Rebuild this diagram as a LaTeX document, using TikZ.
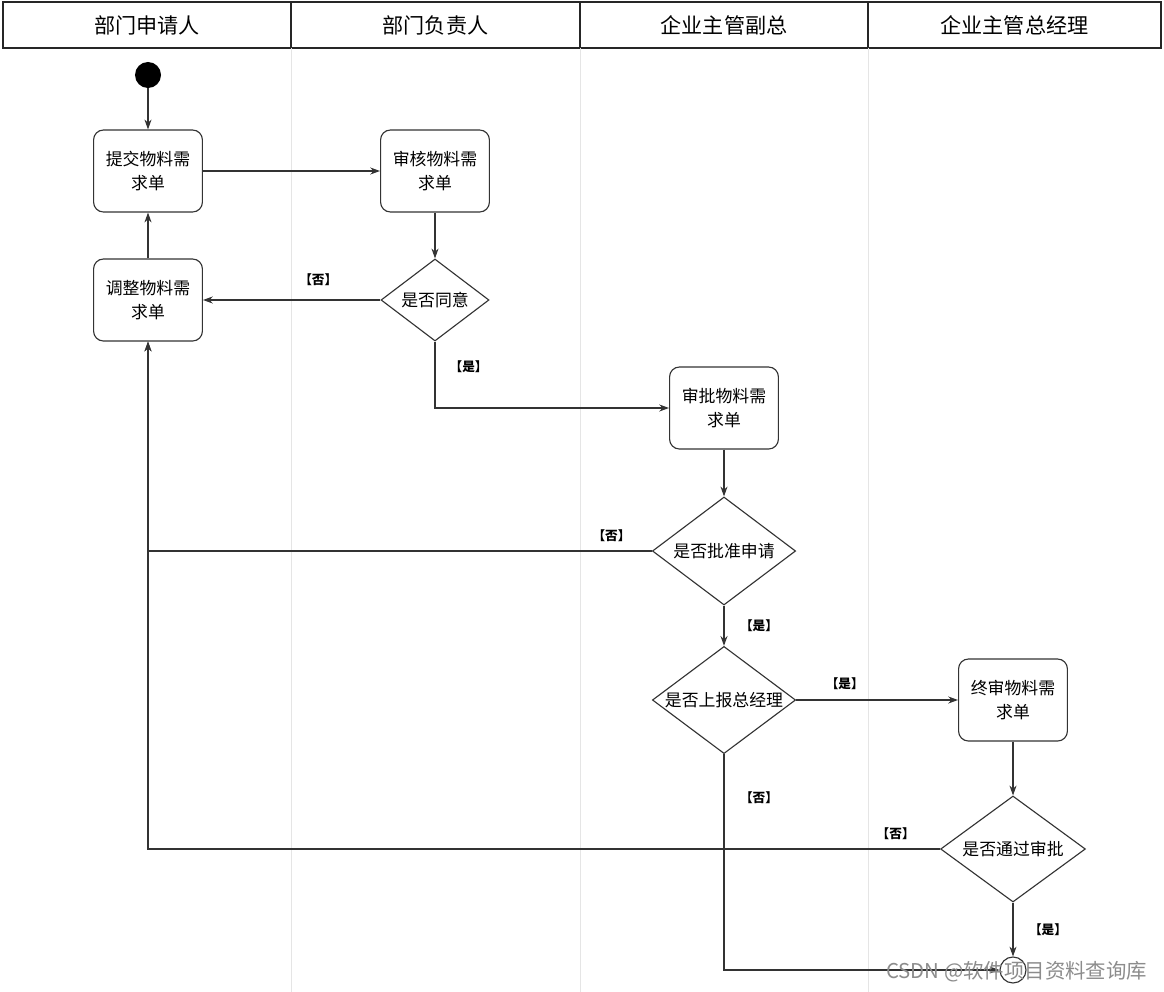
\documentclass[tikz,border=0pt]{standalone}
\usepackage{fontspec}
\setmainfont{Noto Sans CJK SC}
\usepackage{tikz}
\usetikzlibrary{arrows,arrows.meta,positioning,shapes.geometric}

\tikzset{
  act/.style={draw=black!80, rounded corners=7pt, thick, fill=white,
    minimum width=2.72cm, minimum height=2.05cm, align=center,
    font=\fontsize{12}{17}\selectfont},
  dec/.style={draw=black!80, diamond, thick, fill=white, aspect=1.33,
    inner sep=0pt, align=center, font=\fontsize{12}{15}\selectfont},
  lbl/.style={font=\bfseries\fontsize{9}{11}\selectfont, inner sep=1pt},
  flow/.style={-{Stealth[length=7pt,width=5pt]}, thick, draw=black!80}
}

\begin{document}
\begin{tikzpicture}[x=0.025cm, y=-0.025cm]
    \useasboundingbox [fill=white] (0,0) rectangle (1164,992);

    % Draw lanes
    \foreach \xa/\xb/\who [count=\i] in {3/291/部门申请人, 291/580/部门负责人,
        580/868/企业主管副总, 868/1161/企业主管总经理} {
      \draw [black!85, thick] (\xa,2) rectangle (\xb,48);
      \node (lane\i) [font=\fontsize{15}{18}\selectfont] at ({(\xa+\xb)/2},25) {\who};
    }
    \foreach \x in {291,580,868}
      \draw [black!10] (\x,48) -- (\x,992);

    % Nodes
    \node (start) [circle, fill=black, minimum size=0.65cm, inner sep=0pt] at (148,75) {};
    \node (submit) [act] at (148,171) {提交物料需\\求单};
    \node (review) [act] at (435,171) {审核物料需\\求单};
    \node (adjust) [act] at (148,300) {调整物料需\\求单};
    \node (agree) [dec, minimum width=2.7cm, minimum height=2.05cm] at (435,300) {是否同意};
    \node (approve) [act] at (724,408) {审批物料需\\求单};
    \node (ratify) [dec, minimum width=3.58cm, minimum height=2.7cm] at (724,551) {是否批准申请};
    \node (report) [dec, minimum width=3.58cm, minimum height=2.68cm] at (724,700) {是否上报总经理};
    \node (final) [act] at (1013,700) {终审物料需\\求单};
    \node (pass) [dec, minimum width=3.62cm, minimum height=2.65cm] at (1013,849) {是否通过审批};
    \node (end) [circle, draw=black!80, thick, minimum size=0.65cm, inner sep=0pt] at (1013,970) {};

    % Connectors
    \draw [flow] (start) -- (submit);
    \draw [flow] (submit) -- (review);
    \draw [flow] (review) -- (agree);
    \draw [flow] (agree) -- node [lbl, pos=0.35, above=9pt] {【否】} (adjust);
    \draw [flow] (agree.south) |- node [lbl, pos=0.19, right=9pt] {【是】} (approve.west);
    \draw [flow] (adjust) -- (submit);
    \draw [flow] (approve) -- (ratify);
    \draw [flow] (ratify.west) -| node [lbl, pos=0.04, above=5pt] {【否】} (adjust.south);
    \draw [flow] (ratify) -- node [lbl, right=10pt] {【是】} (report);
    \draw [flow] (report) -- node [lbl, pos=0.3, above=6pt] {【是】} (final);
    \draw [flow] (report.south) |- node [lbl, pos=0.1, right=10pt] {【否】} (end.west);
    \draw [flow] (final) -- (pass);
    \draw [flow] (pass.west) -| node [lbl, pos=0.028, above=5pt] {【否】} (adjust.south);
    \draw [flow] (pass) -- node [lbl, right=10pt] {【是】} (end);

    \node (mark) [text=black!45, font=\fontsize{14.5}{16}\selectfont, anchor=east] at (1152,972) {CSDN @软件项目资料查询库};

\end{tikzpicture}
\end{document}
